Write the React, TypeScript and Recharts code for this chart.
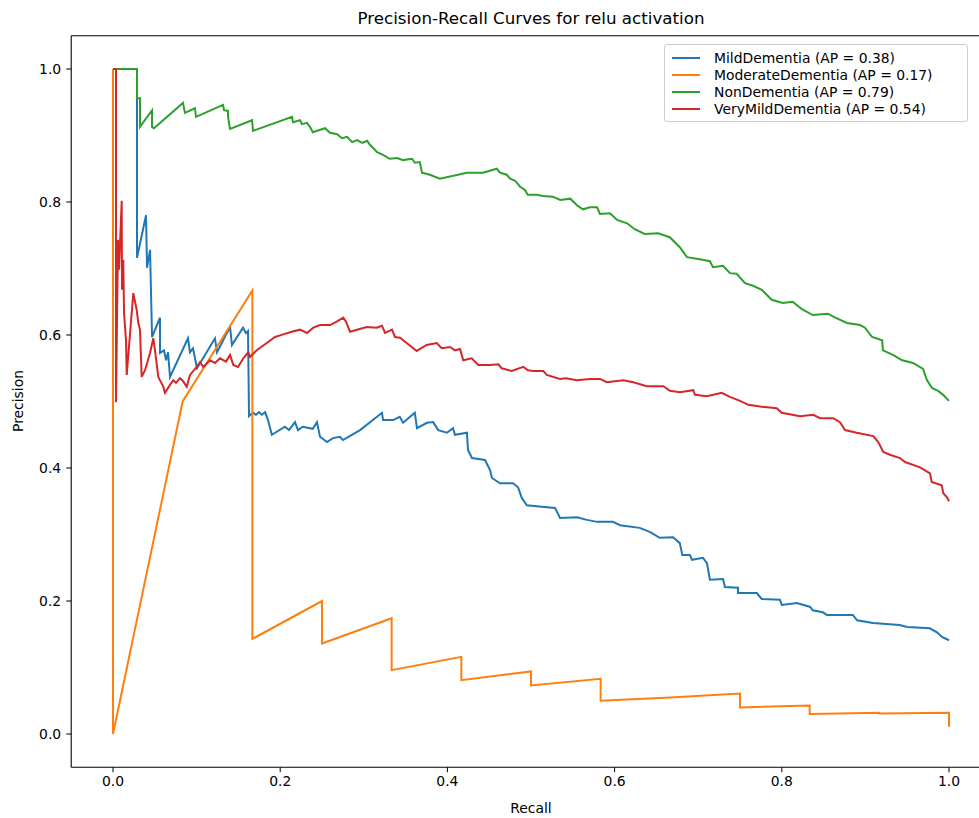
import React from 'react';
import { LineChart, Line, XAxis, YAxis, ReferenceLine } from 'recharts';

const xTicks = [0, 0.2, 0.4, 0.6, 0.8, 1.0];
const yTicks = [0, 0.2, 0.4, 0.6, 0.8, 1.0];

const seriesNames = [
  'MildDementia (AP = 0.38)',
  'ModerateDementia (AP = 0.17)',
  'NonDementia (AP = 0.79)',
  'VeryMildDementia (AP = 0.54)',
];
const seriesColors = ['#1f77b4', '#ff7f0e', '#2ca02c', '#d62728'];

// [recall, precision]
const mildDementia: [number, number][] = [
  [0, 1.0], [0.0287, 1.0], [0.0287, 0.716], [0.0395, 0.78], [0.0407, 0.701], [0.0443, 0.728],
  [0.0467, 0.597], [0.0562, 0.626], [0.0562, 0.573], [0.061, 0.577], [0.0634, 0.562], [0.0658, 0.574],
  [0.0682, 0.537], [0.0897, 0.595], [0.0921, 0.574], [0.0957, 0.58], [0.1005, 0.55], [0.122, 0.595],
  [0.1244, 0.574], [0.14, 0.612], [0.1423, 0.585], [0.1555, 0.611], [0.159, 0.603], [0.1615, 0.606],
  [0.1627, 0.478], [0.1675, 0.483], [0.171, 0.48], [0.1746, 0.484], [0.178, 0.48], [0.182, 0.484],
  [0.1854, 0.472], [0.19, 0.45], [0.2057, 0.462], [0.2105, 0.457], [0.2177, 0.469], [0.2213, 0.457],
  [0.227, 0.462], [0.239, 0.459], [0.244, 0.469], [0.2476, 0.447], [0.256, 0.439], [0.263, 0.445],
  [0.2715, 0.447], [0.275, 0.442], [0.2955, 0.457], [0.3218, 0.483], [0.323, 0.472], [0.335, 0.472],
  [0.343, 0.477], [0.347, 0.468], [0.361, 0.483], [0.3636, 0.46], [0.3756, 0.468], [0.383, 0.469],
  [0.389, 0.457], [0.3995, 0.453], [0.4067, 0.46], [0.409, 0.45], [0.4234, 0.453], [0.4246, 0.427],
  [0.4294, 0.415], [0.445, 0.412], [0.451, 0.397], [0.4533, 0.385], [0.463, 0.377], [0.4785, 0.377],
  [0.4845, 0.371], [0.489, 0.355], [0.495, 0.344], [0.519, 0.341], [0.5287, 0.34], [0.5347, 0.325],
  [0.555, 0.326], [0.567, 0.322], [0.579, 0.319], [0.598, 0.319], [0.6065, 0.314], [0.63, 0.31],
  [0.642, 0.304], [0.654, 0.295], [0.67, 0.296], [0.678, 0.287], [0.681, 0.269], [0.69, 0.269],
  [0.6926, 0.262], [0.7057, 0.265], [0.7105, 0.257], [0.714, 0.232], [0.7297, 0.233], [0.732, 0.221],
  [0.7476, 0.22], [0.7476, 0.212], [0.77, 0.212], [0.776, 0.203], [0.7978, 0.202], [0.8, 0.194],
  [0.818, 0.197], [0.834, 0.191], [0.837, 0.186], [0.849, 0.183], [0.854, 0.179], [0.885, 0.179],
  [0.89, 0.171], [0.909, 0.167], [0.941, 0.164], [0.95, 0.161], [0.977, 0.159], [0.9856, 0.153],
  [0.9916, 0.146], [1.0, 0.141],
];

const moderateDementia: [number, number][] = [
  [0, 1.0], [0, 0.0], [0.0833, 0.5], [0.1667, 0.667], [0.1667, 0.143], [0.25, 0.2], [0.25, 0.136],
  [0.3333, 0.174], [0.3333, 0.096], [0.4167, 0.116], [0.4167, 0.081], [0.5, 0.094], [0.5, 0.073],
  [0.5833, 0.083], [0.5833, 0.05], [0.6667, 0.055], [0.75, 0.061], [0.75, 0.04], [0.8333, 0.043],
  [0.8333, 0.03], [0.9167, 0.032], [0.9167, 0.031], [1.0, 0.032], [1.0, 0.011],
];

const nonDementia: [number, number][] = [
  [0, 1.0], [0.0287, 1.0], [0.0287, 0.956], [0.0323, 0.956], [0.0323, 0.913], [0.0467, 0.938],
  [0.0467, 0.913], [0.049, 0.911], [0.0837, 0.949], [0.0861, 0.934], [0.098, 0.941], [0.0993, 0.928],
  [0.1316, 0.946], [0.1328, 0.938], [0.1376, 0.937], [0.1376, 0.928], [0.14, 0.91], [0.1663, 0.923],
  [0.1675, 0.907], [0.2141, 0.928], [0.2153, 0.92], [0.2237, 0.923], [0.226, 0.917], [0.232, 0.919],
  [0.2356, 0.913], [0.239, 0.905], [0.2536, 0.911], [0.2596, 0.904], [0.268, 0.902], [0.274, 0.896],
  [0.28, 0.898], [0.286, 0.89], [0.292, 0.893], [0.298, 0.889], [0.304, 0.892], [0.3074, 0.886],
  [0.316, 0.875], [0.323, 0.871], [0.331, 0.865], [0.34, 0.866], [0.347, 0.863], [0.3577, 0.865],
  [0.361, 0.859], [0.367, 0.86], [0.3696, 0.844], [0.379, 0.841], [0.391, 0.835], [0.4234, 0.844],
  [0.435, 0.844], [0.4426, 0.844], [0.459, 0.85], [0.463, 0.844], [0.471, 0.841], [0.475, 0.835],
  [0.481, 0.832], [0.487, 0.823], [0.4928, 0.818], [0.496, 0.811], [0.507, 0.811], [0.514, 0.809],
  [0.526, 0.808], [0.535, 0.803], [0.547, 0.805], [0.555, 0.795], [0.562, 0.789], [0.5706, 0.792],
  [0.579, 0.792], [0.5825, 0.782], [0.5945, 0.783], [0.603, 0.773], [0.615, 0.768], [0.624, 0.759],
  [0.636, 0.752], [0.652, 0.753], [0.666, 0.747], [0.678, 0.732], [0.6866, 0.717], [0.702, 0.714],
  [0.714, 0.711], [0.7177, 0.702], [0.7297, 0.704], [0.738, 0.693], [0.746, 0.692], [0.756, 0.678],
  [0.7656, 0.674], [0.776, 0.668], [0.788, 0.653], [0.801, 0.648], [0.813, 0.65], [0.824, 0.639],
  [0.837, 0.63], [0.855, 0.632], [0.864, 0.626], [0.878, 0.618], [0.8935, 0.615], [0.8995, 0.611],
  [0.908, 0.597], [0.92, 0.592], [0.921, 0.577], [0.933, 0.57], [0.944, 0.562], [0.957, 0.558],
  [0.969, 0.549], [0.9737, 0.532], [0.98, 0.52], [0.987, 0.516], [0.993, 0.51], [1.0, 0.501],
];

const veryMildDementia: [number, number][] = [
  [0, 1.0], [0.0036, 1.0], [0.0036, 0.499], [0.006, 0.743], [0.0072, 0.698], [0.0104, 0.802],
  [0.0108, 0.668], [0.0123, 0.713], [0.0132, 0.633], [0.0156, 0.592], [0.0164, 0.54], [0.0243, 0.663],
  [0.0283, 0.638], [0.0303, 0.618], [0.0323, 0.608], [0.0343, 0.537], [0.0383, 0.547], [0.0443, 0.573],
  [0.0482, 0.595], [0.0502, 0.577], [0.0542, 0.537], [0.0602, 0.522], [0.0622, 0.513], [0.0682, 0.525],
  [0.0721, 0.532], [0.0754, 0.528], [0.0801, 0.535], [0.0837, 0.531], [0.0882, 0.522], [0.0921, 0.54],
  [0.1001, 0.552], [0.1041, 0.559], [0.108, 0.552], [0.116, 0.562], [0.122, 0.558], [0.128, 0.565],
  [0.1352, 0.56], [0.14, 0.57], [0.1439, 0.555], [0.1495, 0.552], [0.1559, 0.565], [0.1618, 0.574],
  [0.1639, 0.567], [0.1719, 0.577], [0.1839, 0.588], [0.1938, 0.597], [0.2037, 0.601], [0.2138, 0.605],
  [0.2237, 0.608], [0.232, 0.603], [0.2396, 0.611], [0.2476, 0.615], [0.2596, 0.615], [0.2676, 0.62],
  [0.2755, 0.626], [0.2787, 0.62], [0.2835, 0.605], [0.2919, 0.608], [0.3035, 0.612], [0.3154, 0.611],
  [0.3218, 0.614], [0.3254, 0.603], [0.3337, 0.608], [0.3373, 0.597], [0.3433, 0.596], [0.3513, 0.588],
  [0.3633, 0.576], [0.3752, 0.585], [0.3872, 0.588], [0.3932, 0.58], [0.4031, 0.582], [0.4091, 0.577],
  [0.4151, 0.579], [0.419, 0.562], [0.4291, 0.565], [0.437, 0.555], [0.451, 0.555], [0.4609, 0.556],
  [0.4649, 0.55], [0.4769, 0.546], [0.4908, 0.552], [0.4964, 0.547], [0.5027, 0.546], [0.5147, 0.546],
  [0.5188, 0.54], [0.5347, 0.534], [0.5419, 0.535], [0.5547, 0.532], [0.5706, 0.534], [0.5825, 0.534],
  [0.5906, 0.529], [0.6104, 0.532], [0.6224, 0.529], [0.6384, 0.523], [0.6583, 0.523], [0.6663, 0.516],
  [0.6782, 0.514], [0.6941, 0.517], [0.6962, 0.51], [0.7102, 0.508], [0.7281, 0.513], [0.738, 0.507],
  [0.75, 0.501], [0.7599, 0.495], [0.776, 0.492], [0.7939, 0.49], [0.7999, 0.483], [0.8218, 0.478],
  [0.8377, 0.48], [0.8457, 0.475], [0.8616, 0.475], [0.8696, 0.469], [0.8756, 0.457], [0.8896, 0.453],
  [0.9094, 0.448], [0.9154, 0.439], [0.9214, 0.424], [0.9294, 0.42], [0.9414, 0.415], [0.9474, 0.409],
  [0.9653, 0.401], [0.9773, 0.392], [0.9793, 0.379], [0.9913, 0.374], [0.9932, 0.362], [0.998, 0.355],
  [1.0, 0.35],
];

const allSeries = [mildDementia, moderateDementia, nonDementia, veryMildDementia];

const FONT = '"DejaVu Sans", sans-serif';

const toRows = (pts: [number, number][]) => pts.map(([r, p]) => ({ r, p }));

export default function App() {
  return (
    <div style={{ position: 'absolute', left: 0, top: 0, width: 979, height: 818, overflow: 'hidden', background: '#fff', fontFamily: FONT }}>
      <LineChart width={1000} height={818} margin={{ top: 35.75, right: 9.2, left: 0, bottom: 0 }}>
        <XAxis
          dataKey="r"
          type="number"
          domain={[-0.05, 1.05]}
          allowDataOverflow
          ticks={xTicks}
          tickFormatter={(v: number) => v.toFixed(1)}
          height={50.75}
          tickSize={5}
          tickMargin={4}
          tick={{ fill: '#000', fontSize: 13.9, fontFamily: FONT }}
          tickLine={{ stroke: '#000', strokeWidth: 1 }}
          axisLine={{ stroke: '#000', strokeWidth: 1.1 }}
        />
        <YAxis
          type="number"
          domain={[-0.05, 1.05]}
          allowDataOverflow
          ticks={yTicks}
          tickFormatter={(v: number) => v.toFixed(1)}
          width={71.2}
          tickSize={5}
          tickMargin={5}
          tick={{ fill: '#000', fontSize: 13.9, fontFamily: FONT }}
          tickLine={{ stroke: '#000', strokeWidth: 1 }}
          axisLine={{ stroke: '#000', strokeWidth: 1.1 }}
        />
        <ReferenceLine y={1.05} stroke="#000" strokeWidth={1.1} ifOverflow="visible" />
        {allSeries.map((s, i) => (
          <Line
            key={seriesNames[i]}
            data={toRows(s)}
            dataKey="p"
            type="linear"
            stroke={seriesColors[i]}
            strokeWidth={2}
            dot={false}
            activeDot={false}
            isAnimationActive={false}
            name={seriesNames[i]}
          />
        ))}
      </LineChart>

      <div style={{ position: 'absolute', left: 231, top: 8, width: 600, textAlign: 'center', fontSize: 16.7, lineHeight: '20px', color: '#000' }}>
        Precision-Recall Curves for relu activation
      </div>
      <div style={{ position: 'absolute', left: 431, top: 799, width: 200, textAlign: 'center', fontSize: 13.9, lineHeight: '18px', color: '#000' }}>
        Recall
      </div>
      <div style={{ position: 'absolute', left: 18 - 100, top: 401 - 9, width: 200, textAlign: 'center', fontSize: 13.9, lineHeight: '18px', color: '#000', transform: 'rotate(-90deg)' }}>
        Precision
      </div>

      <div style={{ position: 'absolute', left: 664, top: 44, width: 304, height: 78, boxSizing: 'border-box', border: '1px solid #cccccc', borderRadius: 3, background: 'rgba(255,255,255,0.8)' }}>
        {seriesNames.map((n, i) => (
          <div key={n} style={{ position: 'absolute', left: 0, top: 4 + i * 17, height: 17, display: 'flex', alignItems: 'center' }}>
            <div style={{ marginLeft: 7, width: 28, height: 2, background: seriesColors[i] }} />
            <div style={{ marginLeft: 14, fontSize: 13.9, color: '#000', whiteSpace: 'nowrap' }}>{n}</div>
          </div>
        ))}
      </div>
    </div>
  );
}
